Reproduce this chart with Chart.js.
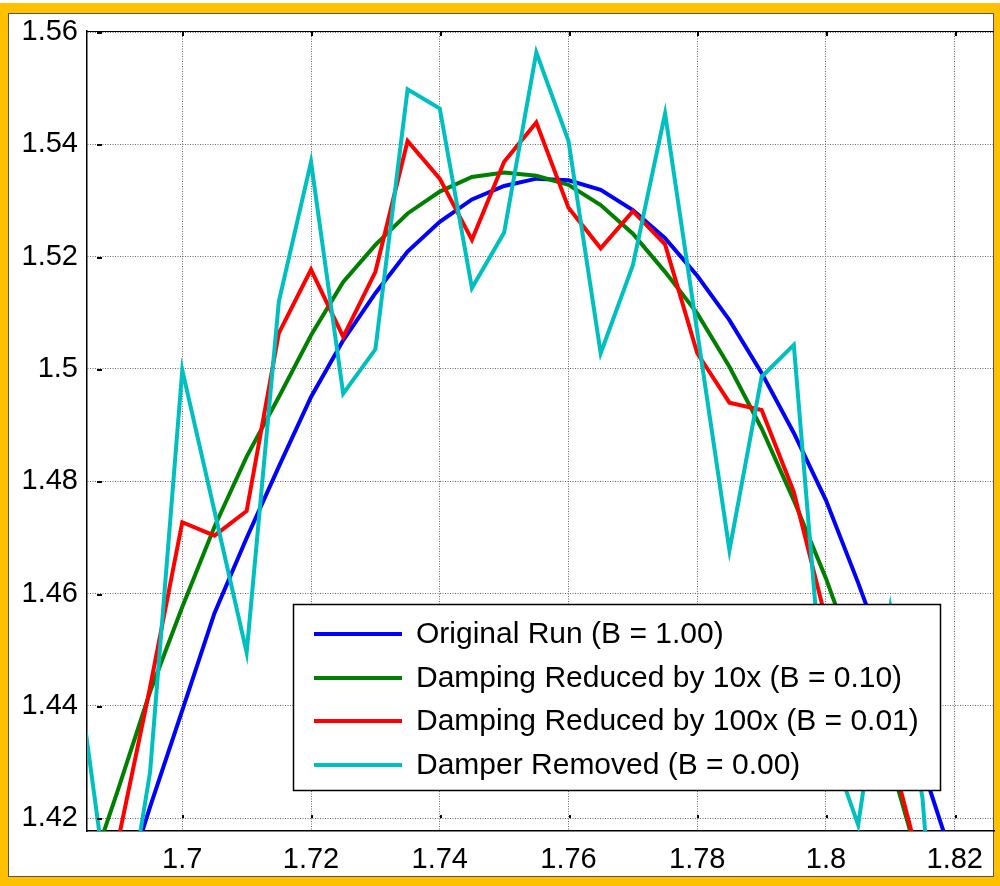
<!DOCTYPE html>
<html>
<head>
<meta charset="utf-8">
<script src="https://cdn.jsdelivr.net/npm/chart.js@4.4.1/dist/chart.umd.min.js"></script>
<style>
  html, body { margin: 0; padding: 0; background: #ffc000; }
  #wrap { width: 1000px; height: 886px; }
</style>
</head>
<body>
<div id="wrap"><canvas id="chart" width="1000" height="886"></canvas></div>
<script>
// sample positions (s)
const xValues = [
  1.685, 1.69, 1.695, 1.7, 1.705, 1.71, 1.715, 1.72, 1.725, 1.73,
  1.735, 1.74, 1.745, 1.75, 1.755, 1.76, 1.765, 1.77, 1.775, 1.78,
  1.785, 1.79, 1.795, 1.8, 1.805, 1.81, 1.815, 1.82, 1.825,
]

const originalRun = [
  1.385, 1.404, 1.422, 1.4392, 1.4565, 1.4699, 1.4826, 1.495, 1.5051, 1.5135,
  1.5209, 1.5262, 1.5302, 1.5326, 1.5339, 1.5336, 1.5319, 1.5283, 1.5233, 1.5166,
  1.5087, 1.4993, 1.4886, 1.4766, 1.4619, 1.4462, 1.4291, 1.4115, 1.392,
]

const reduced10x = [
  1.408, 1.425, 1.4425, 1.4576, 1.4719, 1.4844, 1.495, 1.506, 1.5155, 1.5221,
  1.5277, 1.5316, 1.5342, 1.535, 1.5344, 1.5328, 1.5292, 1.5241, 1.5173, 1.5099,
  1.5004, 1.4894, 1.4766, 1.4627, 1.4467, 1.43, 1.41, 1.39, 1.37,
]

const reduced100x = [
  1.398, 1.4158, 1.4433, 1.4727, 1.4703, 1.4747, 1.5064, 1.5177, 1.5057, 1.5173,
  1.5406, 1.5339, 1.523, 1.5369, 1.5439, 1.5287, 1.5215, 1.5281, 1.5222, 1.5028,
  1.494, 1.4927, 1.4781, 1.4553, 1.4437, 1.4321, 1.41, 1.39, 1.37,
]

const damperRemoved = [
  1.4354, 1.393, 1.4282, 1.4998, 1.4747, 1.4495, 1.512, 1.5369, 1.4956, 1.5035,
  1.5498, 1.5464, 1.5144, 1.5243, 1.5564, 1.5406, 1.5028, 1.5185, 1.5455, 1.5066,
  1.4677, 1.4986, 1.5043, 1.4351, 1.4188, 1.4575, 1.4235, 1.35, 1.35,
]

const seriesLabels = [
  'Original Run (B = 1.00)',
  'Damping Reduced by 10x (B = 0.10)',
  'Damping Reduced by 100x (B = 0.01)',
  'Damper Removed (B = 0.00)',
]
const seriesColors = ['#0000ff', '#008000', '#ff0000', '#00bfbf']

const xTicks = [1.7, 1.72, 1.74, 1.76, 1.78, 1.8, 1.82]
const yTicks = [1.42, 1.44, 1.46, 1.48, 1.5, 1.52, 1.54, 1.56]

const FONT = '"Liberation Sans", Arial, sans-serif'

const { Chart } = window

/** @param {number[]} values */
const toPoints = (values) => xValues.map((x, i) => ({ x, y: values[i] }))

// orange screenshot frame behind everything
const framePlugin = {
  id: 'frame',
  beforeDraw(chart) {
    const { ctx } = chart
    ctx.save()
    ctx.fillStyle = '#ffc000'
    ctx.fillRect(0, 0, 1000, 886)
    ctx.fillStyle = '#ffffff'
    ctx.fillRect(0, 0, 1000, 3)
    ctx.fillRect(8, 13, 986, 864)
    ctx.strokeStyle = '#555555'
    ctx.lineWidth = 1
    ctx.strokeRect(8.5, 13.5, 985, 863)
    ctx.restore()
  },
}

// top border, inner tick marks and the boxed legend
const axesBoxPlugin = {
  id: 'axesBox',
  afterDatasetsDraw(chart) {
    const { ctx, chartArea, scales } = chart
    ctx.save()
    ctx.strokeStyle = '#000000'
    ctx.lineWidth = 1
    ctx.beginPath()
    ctx.moveTo(chartArea.left, chartArea.top + 0.5)
    ctx.lineTo(chartArea.right, chartArea.top + 0.5)
    ctx.stroke()

    ctx.fillStyle = '#000000'
    for (const v of xTicks) {
      const px = Math.round(scales.x.getPixelForValue(v))
      ctx.fillRect(px, chartArea.top + 1, 2, 4)
      ctx.fillRect(px, scales.y.getPixelForValue(1.42) - 3, 2, 3)
    }
    for (const v of yTicks) {
      const py = Math.round(scales.y.getPixelForValue(v))
      ctx.fillRect(chartArea.left + 10, py, 5, 2)
    }

    // legend
    const box = { left: 293, top: 604, right: 940, bottom: 790 }
    ctx.fillStyle = '#ffffff'
    ctx.fillRect(box.left, box.top, box.right - box.left, box.bottom - box.top)
    ctx.strokeStyle = '#000000'
    ctx.lineWidth = 1.5
    ctx.strokeRect(box.left + 0.5, box.top + 0.5, box.right - box.left, box.bottom - box.top)

    const rowY = [634, 678, 721, 765]
    ctx.font = `30px ${FONT}`
    ctx.textBaseline = 'middle'
    ctx.textAlign = 'left'
    chart.data.datasets.forEach((ds, i) => {
      ctx.strokeStyle = ds.borderColor
      ctx.lineWidth = 4
      ctx.beginPath()
      ctx.moveTo(314, rowY[i])
      ctx.lineTo(402, rowY[i])
      ctx.stroke()
      ctx.fillStyle = '#000000'
      ctx.fillText(ds.label, 416, rowY[i] + 1)
    })
    ctx.restore()
  },
}

const datasets = [originalRun, reduced10x, reduced100x, damperRemoved].map((values, i) => ({
  label: seriesLabels[i],
  data: toPoints(values),
  borderColor: seriesColors[i],
  backgroundColor: seriesColors[i],
  borderWidth: 4,
  pointRadius: 0,
  tension: 0,
  clip: 0,
  order: 4 - i,
}))

const tickFormat = (value) => String(Number(Number(value).toFixed(2)))

new Chart(document.getElementById('chart'), {
  type: 'line',
  data: { datasets },
  options: {
    responsive: false,
    animation: false,
    devicePixelRatio: 1,
    layout: { padding: { left: 0, top: 31, right: 6, bottom: 0 } },
    scales: {
      x: {
        type: 'linear',
        min: 1.6852,
        max: 1.8261,
        afterBuildTicks: (scale) => { scale.ticks = xTicks.map((value) => ({ value })) },
        afterFit: (scale) => { scale.height = 55 },
        grid: { color: '#666666', lineWidth: 1, drawTicks: false },
        border: { display: true, color: '#000000', width: 1.5, dash: [1, 1.5] },
        ticks: {
          color: '#000000',
          font: { family: FONT, size: 29 },
          padding: 12,
          maxRotation: 0,
          autoSkip: false,
          callback: tickFormat,
        },
      },
      y: {
        type: 'linear',
        min: 1.4177,
        max: 1.5602,
        afterBuildTicks: (scale) => { scale.ticks = yTicks.map((value) => ({ value })) },
        afterFit: (scale) => { scale.width = 87 },
        grid: { color: '#666666', lineWidth: 1, drawTicks: false },
        border: { display: true, color: '#000000', width: 1.5, dash: [1, 1.5] },
        ticks: {
          color: '#000000',
          font: { family: FONT, size: 29 },
          padding: 9,
          autoSkip: false,
          callback: tickFormat,
        },
      },
    },
    plugins: {
      legend: { display: false },
      tooltip: { enabled: false },
    },
  },
  plugins: [framePlugin, axesBoxPlugin],
})
</script>
</body>
</html>
